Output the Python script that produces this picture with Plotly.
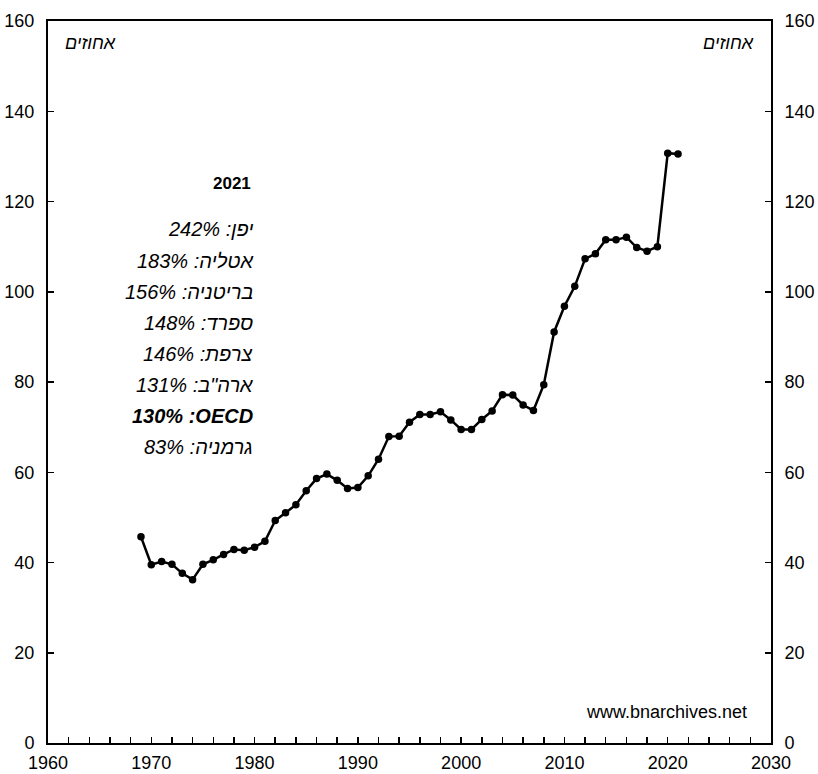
import plotly.graph_objects as go

years = list(range(1969, 2022))
values = [45.7, 39.5, 40.2, 39.6, 37.6, 36.2, 39.6, 40.6, 41.8, 42.9,
          42.7, 43.4, 44.7, 49.3, 51.0, 52.8, 55.9, 58.6, 59.6, 58.2,
          56.4, 56.6, 59.2, 62.9, 67.9, 68.0, 71.1, 72.8, 72.8, 73.4,
          71.6, 69.5, 69.5, 71.7, 73.6, 77.2, 77.1, 74.9, 73.7, 79.4,
          91.1, 96.8, 101.2, 107.3, 108.4, 111.5, 111.5, 112.1, 109.8, 109.0,
          110.0, 130.7, 130.5]

note_title = "2021"
note_lines = ["יפן: 242%", "אטליה: 183%", "בריטניה: 156%", "ספרד: 148%",
              "צרפת: 146%", "ארה\"ב: 131%", "130% :OECD", "גרמניה: 83%"]
bold_line = "130% :OECD"
unit_label = "אחוזים"
source = "www.bnarchives.net"

FONT = "Arial, Liberation Sans, sans-serif"

fig = go.Figure()
fig.add_trace(go.Scatter(
    x=years, y=values, mode="lines+markers",
    line=dict(color="black", width=2.5),
    marker=dict(color="black", size=7.5),
    showlegend=False, hoverinfo="skip"))
fig.add_trace(go.Scatter(x=[years[0]], y=[values[0]], yaxis="y2",
                         mode="markers", marker=dict(opacity=0),
                         showlegend=False, hoverinfo="skip"))

axis_common = dict(showgrid=False, zeroline=False, showline=True,
                   linecolor="black", linewidth=2, ticks="inside",
                   tickcolor="black", tickwidth=1.5, ticklen=6,
                   automargin=False,
                   tickfont=dict(family=FONT, size=18, color="black"))

fig.update_layout(
    width=818, height=774,
    margin=dict(l=48, r=47, t=21, b=31),
    paper_bgcolor="white", plot_bgcolor="white",
    font=dict(family=FONT, color="black"),
    xaxis=dict(range=[1960, 2030], dtick=10, tick0=1960,
               minor=dict(dtick=2, ticks="inside", ticklen=6,
                          tickcolor="black", tickwidth=1.5),
               mirror=True, ticklabelstandoff=2, **axis_common),
    yaxis=dict(range=[0, 160], dtick=20, ticklabelstandoff=8,
               **axis_common),
    yaxis2=dict(range=[0, 160], dtick=20, overlaying="y", side="right",
                ticklabelstandoff=8, **axis_common),
)

ann = []
ann.append(dict(x=0.021, y=0.97, xref="paper", yref="paper", text=f"<i>{unit_label}</i>",
                xanchor="left", yanchor="middle", showarrow=False,
                font=dict(family=FONT, size=18)))
ann.append(dict(x=0.979, y=0.97, xref="paper", yref="paper", text=f"<i>{unit_label}</i>",
                xanchor="right", yanchor="middle", showarrow=False,
                font=dict(family=FONT, size=18)))
ann.append(dict(x=1979.8, y=123.9, xref="x", yref="y", text=f"<b>{note_title}</b>",
                xanchor="right", yanchor="middle", showarrow=False,
                font=dict(family=FONT, size=17)))
for i, t in enumerate(note_lines):
    txt = f"<b><i>{t}</i></b>" if t == bold_line else f"<i>{t}</i>"
    ann.append(dict(x=1980, y=113.8 - i * 6.88, xref="x", yref="y", text=txt,
                    xanchor="right", yanchor="middle", showarrow=False,
                    font=dict(family=FONT, size=20)))
ann.append(dict(x=0.97, y=0.043, xref="paper", yref="paper", text=source,
                xanchor="right", yanchor="middle", showarrow=False,
                font=dict(family=FONT, size=18)))
fig.update_layout(annotations=ann)

fig.write_html("out.html",
               config={"displayModeBar": False, "staticPlot": True},
               post_script="document.body.style.margin='0';document.body.style.overflow='hidden';")
